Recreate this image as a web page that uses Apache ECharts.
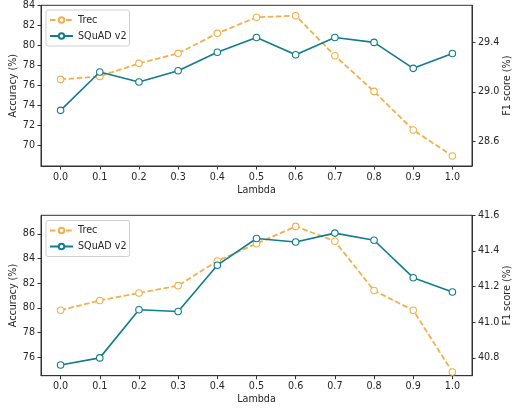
<!DOCTYPE html>
<html>
<head>
<meta charset="utf-8">
<script src="https://cdn.jsdelivr.net/npm/echarts@6/dist/echarts.min.js"></script>
<style>
html,body{margin:0;padding:0;background:#fff;}
#c{width:512px;height:410px;}
</style>
</head>
<body>
<div id="c"></div>
<script>
const lambdas = [0.0, 0.1, 0.2, 0.3, 0.4, 0.5, 0.6, 0.7, 0.8, 0.9, 1.0];
const trecTop = [76.6, 76.9, 78.2, 79.2, 81.2, 82.8, 82.96, 78.96, 75.4, 71.55, 68.95];
const squadTop = [28.85, 29.16, 29.08, 29.17, 29.32, 29.44, 29.30, 29.44, 29.40, 29.19, 29.31];
const trecBottom = [79.8, 80.6, 81.2, 81.8, 83.8, 85.2, 86.6, 85.4, 81.4, 79.8, 74.8];
const squadBottom = [40.76, 40.80, 41.07, 41.06, 41.32, 41.47, 41.45, 41.50, 41.46, 41.25, 41.17];

const xTicks = [0.0, 0.1, 0.2, 0.3, 0.4, 0.5, 0.6, 0.7, 0.8, 0.9, 1.0];
const accTicksTop = [70, 72, 74, 76, 78, 80, 82, 84];
const f1TicksTop = [28.6, 29.0, 29.4];
const accTicksBottom = [76, 78, 80, 82, 84, 86];
const f1TicksBottom = [40.8, 41.0, 41.2, 41.4, 41.6];

const ORANGE = '#f2b04b';
const TEAL = '#117c8b';
const TXT = '#262626';
const FRAME = '#333';
const FONT = 'DejaVu Sans';
const FS = 9.6;

function xAxis(gi) {
  return {
    type: 'value', gridIndex: gi, min: -0.05, max: 1.05, position: 'bottom',
    name: 'Lambda', nameLocation: 'middle', nameGap: 19, nameMoveOverlap: false,
    nameTextStyle: {color: TXT, fontFamily: FONT, fontSize: FS},
    axisLine: {show: true, onZero: false, lineStyle: {color: FRAME, width: 1}},
    splitLine: {show: false},
    axisTick: {show: true, inside: false, length: 3.5, lineStyle: {color: FRAME, width: 1}, customValues: xTicks},
    axisLabel: {color: TXT, fontFamily: FONT, fontSize: FS, margin: 6, customValues: xTicks,
      formatter: v => Number(v).toFixed(1)}
  };
}
function yAxis(gi, pos, min, max, ticks, name, gap, dec) {
  return {
    type: 'value', gridIndex: gi, position: pos, min: min, max: max,
    name: name, nameLocation: 'middle', nameGap: gap, nameRotate: 90, nameMoveOverlap: false,
    nameTextStyle: {color: TXT, fontFamily: FONT, fontSize: FS},
    axisLine: {show: true, onZero: false, lineStyle: {color: FRAME, width: 1}},
    splitLine: {show: false},
    axisTick: {show: true, inside: false, length: 3.5, lineStyle: {color: FRAME, width: 1}, customValues: ticks},
    axisLabel: {color: TXT, fontFamily: FONT, fontSize: FS, margin: 6, customValues: ticks,
      formatter: v => Number(v).toFixed(dec)}
  };
}
function pairs(vals) { return lambdas.map((x, i) => [x, vals[i]]); }
function series(name, vals, xi, yi, color, dashed) {
  return {
    name: name, type: 'line', xAxisIndex: xi, yAxisIndex: yi,
    data: pairs(vals),
    symbol: 'circle', symbolSize: 6.5,
    itemStyle: {color: '#fff', borderColor: color, borderWidth: 1.1},
    lineStyle: {color: color, width: dashed ? 1.8 : 1.6, type: dashed ? [5.5, 2.6] : 'solid'},
    emphasis: {disabled: true},
    animation: false, z: dashed ? 2 : 3
  };
}
function legend(top) {
  return {
    orient: 'vertical', left: 46, top: top,
    padding: [5, 3, 5, 3], itemGap: 6, itemWidth: 23, itemHeight: 7,
    backgroundColor: '#fff', borderColor: '#d0d0d0', borderWidth: 1, borderRadius: 2,
    textStyle: {color: TXT, fontFamily: FONT, fontSize: FS},
    data: ['Trec', 'SQuAD v2']
  };
}

const gridBase = {left: 41, right: 40, show: true, borderColor: FRAME, borderWidth: 1,
  backgroundColor: 'transparent', outerBoundsMode: 'none', containLabel: false};

const chart = echarts.init(document.getElementById('c'), null, {renderer: 'canvas'});
chart.setOption({
  animation: false,
  backgroundColor: '#fff',
  grid: [
    Object.assign({}, gridBase, {top: 5.3, height: 160.7}),
    Object.assign({}, gridBase, {top: 215.3, height: 160.4})
  ],
  legend: [legend(10), legend(220.5)],
  xAxis: [xAxis(0), xAxis(1)],
  yAxis: [
    yAxis(0, 'left', 67.95, 84, accTicksTop, 'Accuracy (%)', 22.5, 0),
    yAxis(0, 'right', 28.40, 29.70, f1TicksTop, 'F1 score (%)', 30.5, 1),
    yAxis(1, 'left', 74.5, 87.5, accTicksBottom, 'Accuracy (%)', 22.5, 0),
    yAxis(1, 'right', 40.70, 41.60, f1TicksBottom, 'F1 score (%)', 30.5, 1)
  ],
  series: [
    series('Trec', trecTop, 0, 0, ORANGE, true),
    series('SQuAD v2', squadTop, 0, 1, TEAL, false),
    series('Trec', trecBottom, 1, 2, ORANGE, true),
    series('SQuAD v2', squadBottom, 1, 3, TEAL, false)
  ]
});
</script>
</body>
</html>
